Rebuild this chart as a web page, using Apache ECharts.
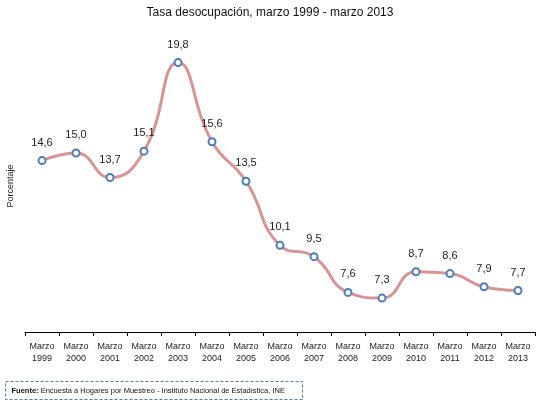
<!DOCTYPE html>
<html>
<head>
<meta charset="utf-8">
<script src="https://cdn.jsdelivr.net/npm/echarts@6/dist/echarts.min.js"></script>
<style>
  html, body { margin: 0; padding: 0; background: #fff; }
  #chart { width: 540px; height: 400px; }
</style>
</head>
<body>
<div id="chart"></div>
<script>
const years = ['1999', '2000', '2001', '2002', '2003', '2004', '2005', '2006', '2007', '2008', '2009', '2010', '2011', '2012', '2013'];
const rates = [14.6, 15.0, 13.7, 15.1, 19.8, 15.6, 13.5, 10.1, 9.5, 7.6, 7.3, 8.7, 8.6, 7.9, 7.7];
const categories = years.map(y => 'Marzo\n' + y);

const chart = echarts.init(document.getElementById('chart'));

chart.setOption({
  animation: false,
  textStyle: { fontFamily: 'Liberation Sans, Arial, sans-serif' },
  title: {
    text: 'Tasa desocupación, marzo 1999 - marzo 2013',
    left: 'center',
    top: 2,
    textStyle: { fontSize: 12, fontWeight: 'normal', color: '#111' }
  },
  grid: { left: 25, right: 5, top: 40, bottom: 68, outerBoundsMode: 'none', containLabel: false },
  xAxis: {
    type: 'category',
    data: categories,
    boundaryGap: true,
    axisLine: { lineStyle: { color: '#000', width: 1 } },
    axisTick: { show: true, length: 4, lineStyle: { color: '#000' } },
    axisLabel: { fontSize: 9, color: '#222', lineHeight: 12, margin: 9 }
  },
  yAxis: {
    type: 'value',
    min: 5.5,
    max: 21,
    name: 'Porcentaje',
    nameLocation: 'middle',
    nameRotate: 90,
    nameGap: 10,
    nameTextStyle: { fontSize: 9, color: '#222' },
    axisLine: { show: false },
    axisTick: { show: false },
    axisLabel: { show: false },
    splitLine: { show: false }
  },
  series: [{
    type: 'line',
    data: rates,
    smooth: 0.5,
    symbol: 'circle',
    symbolSize: 7,
    lineStyle: { color: '#d99392', width: 3 },
    itemStyle: { color: '#fff', borderColor: '#4a7ebb', borderWidth: 2 },
    label: {
      show: true,
      position: 'top',
      distance: 8,
      fontSize: 11,
      color: '#222',
      formatter: p => p.value.toFixed(1).replace('.', ',')
    }
  }],
  graphic: [{
    type: 'group',
    left: 3,
    top: 379,
    children: [{
      type: 'rect',
      shape: { x: 0, y: 0, width: 297, height: 18 },
      style: { fill: 'none', stroke: '#4a7ebb', lineWidth: 1, lineDash: [3, 2] }
    }, {
      type: 'text',
      x: 6,
      y: 5,
      style: {
        text: '{b|Fuente:} Encuesta a Hogares por Muestreo - Instituto Nacional de Estadística, INE',
        fontSize: 7.5,
        fill: '#111',
        fontFamily: 'Liberation Sans, Arial, sans-serif',
        rich: { b: { fontWeight: 'bold', fontSize: 7.5, fill: '#111' } }
      }
    }]
  }]
});
</script>
</body>
</html>
